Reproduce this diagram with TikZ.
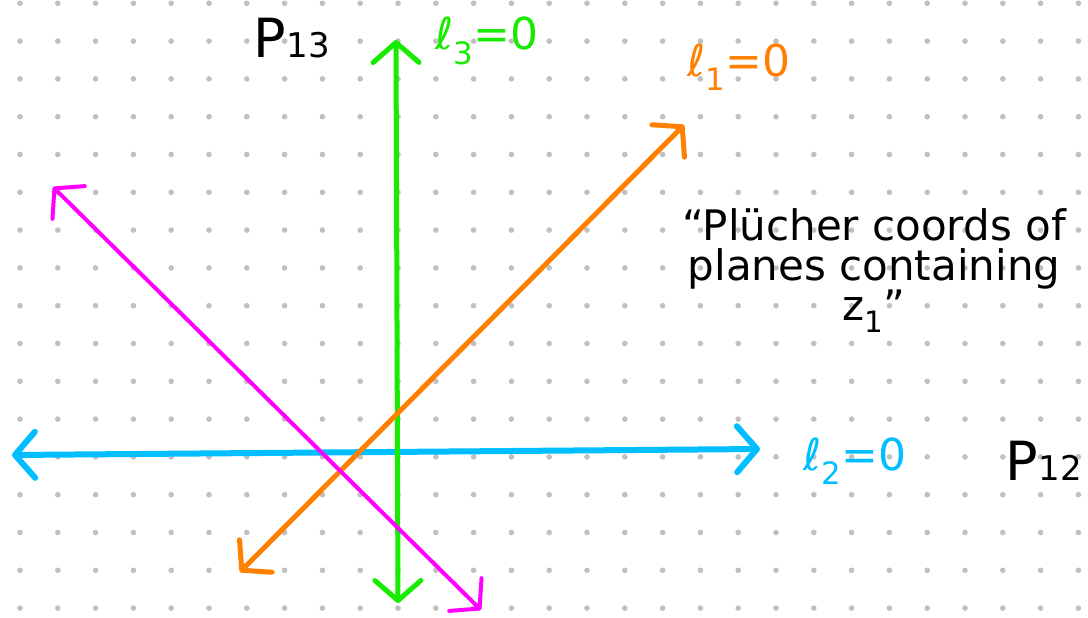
\documentclass[tikz,border=0pt]{standalone}
\usepackage{fontspec}
\setmainfont{DejaVu Sans}
\usetikzlibrary{arrows.meta}
\definecolor{dotGray}{RGB}{192,192,192}
\definecolor{skyBlue}{RGB}{0,190,255}
\definecolor{brightGreen}{RGB}{25,235,0}
\definecolor{warmOrange}{RGB}{255,128,0}
\definecolor{hotMagenta}{RGB}{255,0,255}
\newcommand{\bigfont}{\fontsize{44}{44}\selectfont}
\newcommand{\planeName}[1]{{\fontsize{54}{54}\selectfont P}\kern1pt{\fontsize{34}{34}\selectfont #1}}

\begin{document}
\begin{tikzpicture}[x=1pt, y=-1pt,
  barb/.tip={Straight Barb[round, length=20pt, width=46pt]},
  plane/.style={line width=#1, line cap=round, line join=round, barb-barb},
  lbl/.style={inner sep=0pt, anchor=base west, font=\bigfont}
]
\useasboundingbox (0,0) rectangle (1088,618);
\fill[white] (0,0) rectangle (1088,618);
% dotted paper
\foreach \i in {0,...,28}
  \foreach \j in {0,...,16}
    \fill[dotGray] (20+37.8*\i, 3.3+37.8*\j) circle (2.8);

% end points of the four lines
\coordinate (blueL) at (12,455);
\coordinate (blueR) at (760,449);
\coordinate (greenT) at (396,40);
\coordinate (greenB) at (398,603);
\coordinate (orangeLo) at (240,572);
\coordinate (orangeHi) at (684,125);
\coordinate (magHi) at (53,187);
\coordinate (magLo) at (481,610);

\draw[plane=6pt, skyBlue] (blueL) -- (blueR);
\draw[plane=5pt, brightGreen] (greenT) -- (greenB);
\draw[plane=5pt, warmOrange] (orangeLo) -- (orangeHi);
\draw[plane=4pt, hotMagenta] (magHi) -- (magLo);

% labels
\node[lbl] (p13Label) at (253,58) {\planeName{13}};
\node[lbl, text=brightGreen] (ellThree) at (435,50) {ℓ\textsubscript{3}=0};
\node[lbl, text=warmOrange] (ellOne) at (687,77) {ℓ\textsubscript{1}=0};
\node[lbl, text=skyBlue] (ellTwo) at (803,470) {ℓ\textsubscript{2}=0};
\node[lbl] (p12Label) at (1005,480) {\planeName{12}};
\node[inner sep=0pt, anchor=north, align=center, font=\fontsize{42}{40}\selectfont]
  (pluckerNote) at (874,208) {“Plücher coords of\\planes containing\\z\textsubscript{1}”};
\end{tikzpicture}
\end{document}
